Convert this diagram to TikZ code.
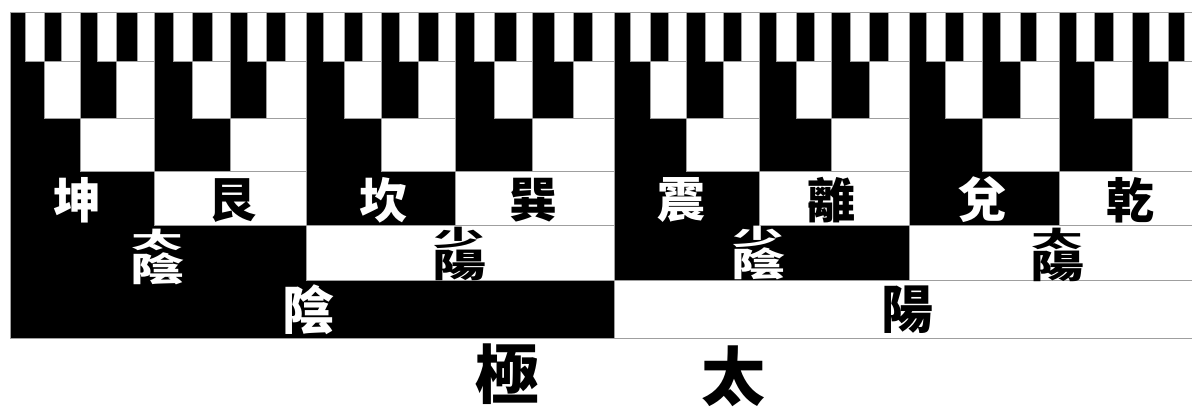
\documentclass[tikz,border=0pt]{standalone}
\usepackage{fontspec}
\usepackage{graphicx}
\newfontfamily\cjk{Noto Sans CJK TC}
\newcommand\stk[2]{\vbox{\offinterlineskip\halign{\hfil##\hfil\cr\scalebox{0.95}[0.42]{#1}\cr\noalign{\kern1pt}\scalebox{1}[0.62]{#2}\cr}}}
\tikzset{
  cellline/.style={draw=gray!75, line width=0.8pt},
  gua/.style={font=\cjk\bfseries\fontsize{48}{48}\selectfont, inner sep=0pt, text=black},
  xiang/.style={font=\cjk\bfseries\fontsize{54}{54}\selectfont, inner sep=0pt, text=black},
  yiyang/.style={font=\cjk\bfseries\fontsize{52}{52}\selectfont, inner sep=0pt, text=black},
  taiji/.style={font=\cjk\bfseries\fontsize{64}{64}\selectfont, inner sep=0pt, text=black},
  onblack/.style={text=white}
}
\begin{document}
\begin{tikzpicture}[x=1pt,y=-1pt]
\useasboundingbox (0,0) rectangle (1192,408);
\def\B{{10.7,25.7,44.3,61.3,80.3,97.3,116.7,137.7,154.7,173.7,192.7,212,230.3,247.3,266.7,285.7,306.5,323.7,344.3,362,381,399.5,418.3,438,455,474,494.7,516,532.7,554,573,592.7,614.3,630,650.7,668.3,686.7,705,723.3,741,759,776.7,796,814,831,850,869,888,909,926,945,963,982,1000,1020,1036,1059.5,1076,1094,1113,1132,1149,1168,1184,1203}}
\def\Y{{12.7,61,118,171,225,280.5,338}}
\begin{scope}
\clip (0,0) rectangle (1192,408);
% fills
\foreach \r/\s/\n in {0/1/63,1/2/31,2/4/15,3/8/7,4/16/3,5/32/1} {
  \pgfmathtruncatemacro\rr{\r+1}
  \pgfmathsetmacro\ya{\Y[\r]}
  \pgfmathsetmacro\yb{\Y[\rr]}
  \foreach \j in {0,...,\n} {
    \pgfmathtruncatemacro\ia{\j*\s}
    \pgfmathtruncatemacro\ib{(\j+1)*\s}
    \pgfmathsetmacro\xa{\B[\ia]}
    \pgfmathsetmacro\xb{\B[\ib]}
    \ifodd\j
      \fill[white] (\xa,\ya) rectangle (\xb,\yb);
    \else
      \fill[black] (\xa,\ya) rectangle (\xb,\yb);
    \fi
  }
}
% borders of the white cells
\foreach \r/\s/\n in {0/1/63,1/2/31,2/4/15,3/8/7,4/16/3,5/32/1} {
  \pgfmathtruncatemacro\rr{\r+1}
  \pgfmathsetmacro\ya{\Y[\r]}
  \pgfmathsetmacro\yb{\Y[\rr]}
  \foreach \j in {0,...,\n} {
    \pgfmathtruncatemacro\ia{\j*\s}
    \pgfmathtruncatemacro\ib{(\j+1)*\s}
    \pgfmathsetmacro\xa{\B[\ia]}
    \pgfmathsetmacro\xb{\B[\ib]}
    \ifodd\j
      \draw[cellline] (\xa,\ya) rectangle (\xb,\yb);
    \fi
  }
}
\draw[cellline] (10.7,12.7) rectangle (1203,338);
\end{scope}
% eight trigrams
\node[gua,onblack] (kun)  at (77,200)   {坤};
\node[gua]         (gen)  at (232,201)  {艮};
\node[gua,onblack] (kan)  at (383,200)  {坎};
\node[gua]         (xun)  at (533,200)  {巽};
\node[gua,onblack] (zhen) at (681,200)  {震};
\node[gua]         (li)   at (831,200)  {離};
\node[gua,onblack] (dui)  at (982,200)  {兌};
\node[gua]         (qian) at (1130,200) {乾};
% four images
\node[xiang,onblack] (taiyin)   at (157,257)  {\stk{太}{陰}};
\node[xiang]         (shaoyang) at (459,254)  {\stk{少}{陽}};
\node[xiang,onblack] (shaoyin)  at (758,253)  {\stk{少}{陰}};
\node[xiang]         (taiyang)  at (1057,255) {\stk{太}{陽}};
% two modes
\node[yiyang,onblack] (yin)  at (308,310) {陰};
\node[yiyang]         (yang) at (907,310) {陽};
% taiji, read right to left
\node[taiji] (ji)  at (507,374) {極};
\node[taiji] (tai) at (733,376) {太};
\end{tikzpicture}
\end{document}
